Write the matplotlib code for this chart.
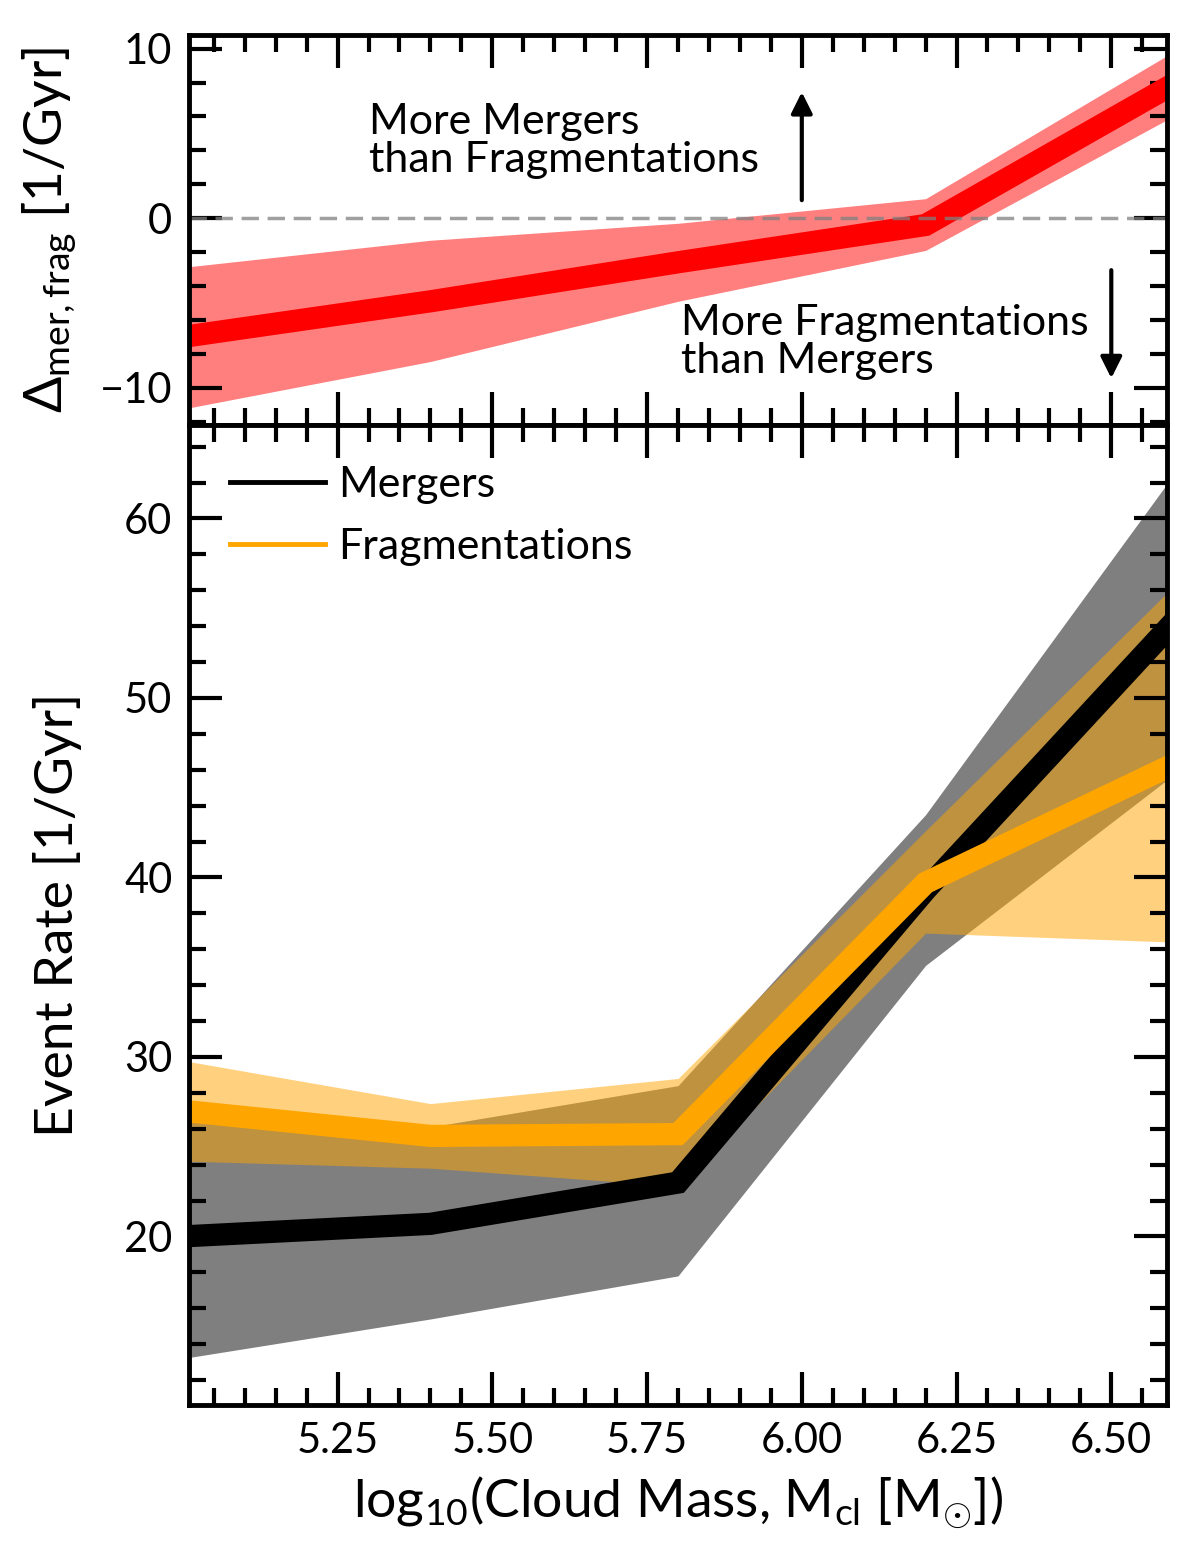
import numpy as np
import matplotlib
matplotlib.use("Agg")
import matplotlib.pyplot as plt
from matplotlib.lines import Line2D
from matplotlib.ticker import MultipleLocator

# log10 cloud mass bins
mass = [5.0, 5.4, 5.8, 6.2, 6.6]

# event rates [1/Gyr]
mergers = [20.0, 20.7, 23.0, 39.3, 54.2]
mergers_lo = [13.2, 15.4, 17.8, 35.1, 45.7]
mergers_hi = [26.5, 26.1, 28.4, 43.5, 62.4]

frags = [27.0, 25.6, 25.7, 39.7, 46.3]
frags_lo = [24.2, 23.8, 22.8, 36.9, 36.4]
frags_hi = [29.8, 27.4, 28.8, 42.6, 56.2]

# mergers - fragmentations
delta = [-7.0, -4.9, -2.6, -0.4, 7.9]
delta_lo = [-11.25, -8.45, -4.9, -1.9, 6.0]
delta_hi = [-2.9, -1.3, -0.3, 1.15, 9.8]

plt.rcParams['font.family'] = ['Lato', 'DejaVu Sans']
plt.rcParams['mathtext.fontset'] = 'custom'
plt.rcParams['mathtext.rm'] = 'Lato'
plt.rcParams['mathtext.it'] = 'Lato:italic'
plt.rcParams['mathtext.bf'] = 'Lato:bold'

fs_tick = 30
fs_label = 38.5
fs_text = 31

fig = plt.figure(figsize=(12, 15.63), dpi=100)
ax_top = fig.add_axes([0.1575, 0.728, 0.815, 0.2496])
ax_bot = fig.add_axes([0.1575, 0.101, 0.815, 0.627], sharex=ax_top)

# top panel: difference
ax_top.fill_between(mass, delta_lo, delta_hi, color='red', alpha=0.5, lw=0)
ax_top.plot(mass, delta, color='red', lw=16, solid_joinstyle='miter')
ax_top.axhline(0, color='grey', ls='--', lw=2.5, alpha=0.75, dashes=(5, 2.5))

ax_top.annotate('', xy=(6.0, 7.6), xytext=(6.0, 0.9),
                arrowprops=dict(arrowstyle='-|>', color='k', lw=3, mutation_scale=32))
ax_top.annotate('', xy=(6.5, -9.6), xytext=(6.5, -2.9),
                arrowprops=dict(arrowstyle='-|>', color='k', lw=3, mutation_scale=32))
ax_top.text(5.30, 2.7, 'More Mergers\nthan Fragmentations', fontsize=fs_text,
            va='baseline', ha='left', linespacing=1.0)
ax_top.text(5.805, -9.12, 'More Fragmentations\nthan Mergers', fontsize=fs_text,
            va='baseline', ha='left', linespacing=1.0)

ax_top.set_ylim(-12.2, 10.8)
ax_top.set_ylabel(r'$\Delta_{\mathrm{mer,frag}}$ [1/Gyr]', fontsize=fs_label, labelpad=16)
ax_top.yaxis.set_major_locator(MultipleLocator(10))
ax_top.yaxis.set_minor_locator(MultipleLocator(2))
plt.setp(ax_top.get_xticklabels(), visible=False)

# bottom panel: rates
ax_bot.fill_between(mass, mergers_lo, mergers_hi, color='black', alpha=0.5, lw=0)
ax_bot.fill_between(mass, frags_lo, frags_hi, color='orange', alpha=0.5, lw=0)
ax_bot.plot(mass, mergers, color='black', lw=16, solid_joinstyle='miter')
ax_bot.plot(mass, frags, color='orange', lw=16, solid_joinstyle='miter')

handles = [Line2D([], [], color='black', lw=3.5), Line2D([], [], color='orange', lw=3.5)]
ax_bot.legend(handles, ['Mergers', 'Fragmentations'], loc='upper left', frameon=False,
              fontsize=fs_text, handlelength=2.2, handletextpad=0.32, labelspacing=0.55,
              borderaxespad=0.55)

ax_bot.set_xlim(5.01, 6.59)
ax_bot.set_ylim(10.6, 65.2)
ax_bot.set_ylabel('Event Rate [1/Gyr]', fontsize=fs_label, labelpad=30)
ax_bot.set_xlabel(r'log$_{10}$(Cloud Mass, M$_{\mathrm{cl}}$ [M$_{\odot}$])', fontsize=fs_label, labelpad=10)
ax_bot.xaxis.set_major_locator(MultipleLocator(0.25))
ax_bot.xaxis.set_minor_locator(MultipleLocator(0.05))
ax_bot.yaxis.set_major_locator(MultipleLocator(10))
ax_bot.yaxis.set_minor_locator(MultipleLocator(2))
ax_bot.xaxis.set_major_formatter(matplotlib.ticker.FormatStrFormatter('%.2f'))

for ax in (ax_top, ax_bot):
    ax.tick_params(which='both', direction='in', top=True, right=True, labelsize=fs_tick, pad=12)
    ax.tick_params(which='major', length=24, width=3)
    ax.tick_params(which='minor', length=12, width=3)
    for s in ax.spines.values():
        s.set_linewidth(3.5)

fig.savefig('out.png', dpi=100)
